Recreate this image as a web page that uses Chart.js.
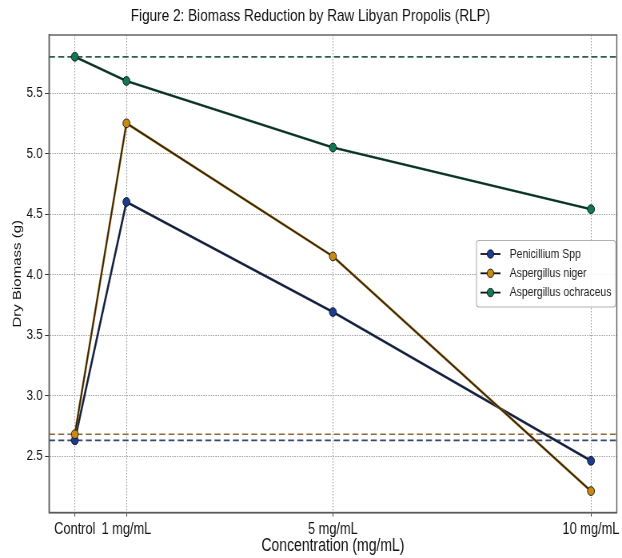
<!DOCTYPE html>
<html>
<head>
<meta charset="utf-8">
<script src="https://cdn.jsdelivr.net/npm/chart.js@4.4.1/dist/chart.umd.min.js"></script>
<style>
html,body{margin:0;padding:0;background:#fff;overflow:hidden;width:622px;height:558px;}
#wrap{width:778px;height:558px;transform:scale(0.79949,1);transform-origin:0 0;}
</style>
</head>
<body>
<div id="wrap"><canvas id="c" width="778" height="558"></canvas></div>
<script>
const xValues = [0, 1, 5, 10];
const xTickLabels = ['Control', '1 mg/mL', '5 mg/mL', '10 mg/mL'];
const yTicks = [2.5, 3.0, 3.5, 4.0, 4.5, 5.0, 5.5];
const seriesNames = ['Penicillium Spp', 'Aspergillus niger', 'Aspergillus ochraceus'];
const penicillium = [2.63, 4.60, 3.69, 2.46];
const niger = [2.68, 5.25, 4.15, 2.21];
const ochraceus = [5.80, 5.60, 5.05, 4.54];

const markerColors = ['#1c3c92', '#c98a10', '#0e7a55'];
const lineColors = ['#161c2c', '#2e220e', '#112a22'];
const haloColors = ['#3a4f80', '#b07a20', '#2e6a52'];
const refColors = ['#36486c', '#8c6c3e', '#2f5e4c'];

const FONT = '"Liberation Sans", Arial, sans-serif';

function toPoints(vals){ return xValues.map((x,i)=>({x:x, y:vals[i]})); }
const allSeries = [penicillium, niger, ochraceus];

const datasets = allSeries.map((vals,i)=>({
  label: seriesNames[i],
  data: toPoints(vals),
  borderColor: lineColors[i],
  borderWidth: 1.6,
  pointRadius: 4.4,
  pointHoverRadius: 4.4,
  pointBackgroundColor: markerColors[i],
  pointBorderColor: '#111',
  pointBorderWidth: 0.9,
  tension: 0,
  fill: false,
  order: 3 - i
}));

const refLines = {
  id: 'refLines',
  beforeDatasetsDraw(chart){
    const {ctx, chartArea, scales} = chart;
    ctx.save();
    ctx.lineWidth = 1.7;
    ctx.setLineDash([7.5, 4]);
    allSeries.forEach((vals,i)=>{
      const y = scales.y.getPixelForValue(vals[0]);
      ctx.strokeStyle = refColors[i];
      ctx.beginPath();
      ctx.moveTo(chartArea.left, y);
      ctx.lineTo(chartArea.right, y);
      ctx.stroke();
    });
    ctx.restore();
  }
};

const halo = {
  id: 'halo',
  beforeDatasetDraw(chart, args){
    const meta = args.meta;
    const i = args.index;
    const ctx = chart.ctx;
    ctx.save();
    ctx.strokeStyle = haloColors[i];
    ctx.lineWidth = 2.7;
    ctx.lineJoin = 'round';
    ctx.beginPath();
    meta.data.forEach((p,k)=>{ if(k===0) ctx.moveTo(p.x,p.y); else ctx.lineTo(p.x,p.y); });
    ctx.stroke();
    ctx.restore();
  }
};

const frame = {
  id: 'frame',
  afterDraw(chart){
    const {ctx, chartArea} = chart;
    ctx.save();
    ctx.strokeStyle = '#5a5a5a';
    ctx.lineWidth = 1.4;
    ctx.strokeRect(chartArea.left, chartArea.top, chartArea.right-chartArea.left, chartArea.bottom-chartArea.top);
    // legend
    const bx = 596, by = 240.5, bw = 174, bh = 66.5;
    ctx.fillStyle = 'rgba(255,255,255,0.9)';
    ctx.strokeStyle = '#b0b0b0';
    ctx.lineWidth = 1.1;
    ctx.beginPath();
    if (ctx.roundRect) ctx.roundRect(bx, by, bw, bh, 3); else ctx.rect(bx,by,bw,bh);
    ctx.fill(); ctx.stroke();
    chart.data.datasets.forEach((ds,i)=>{
      const ry = by + 13.5 + i*19.3;
      ctx.strokeStyle = '#111';
      ctx.lineWidth = 1.8;
      ctx.beginPath(); ctx.moveTo(bx+5, ry); ctx.lineTo(bx+30, ry); ctx.stroke();
      ctx.fillStyle = ds.pointBackgroundColor;
      ctx.strokeStyle = '#111';
      ctx.lineWidth = 0.9;
      ctx.beginPath(); ctx.arc(bx+17.5, ry, 4.2, 0, Math.PI*2); ctx.fill(); ctx.stroke();
      ctx.fillStyle = '#222';
      ctx.font = '13px ' + FONT;
      ctx.textBaseline = 'middle';
      ctx.textAlign = 'left';
      ctx.fillText(ds.label, bx+41.5, ry);
    });
    ctx.restore();
  }
};

new Chart(document.getElementById('c'), {
  type: 'line',
  data: { datasets },
  plugins: [refLines, halo, frame],
  options: {
    responsive: false,
    animation: false,
    devicePixelRatio: 1,
    layout: { padding: { left: 0, right: 1.3, top: 0, bottom: 0 } },
    plugins: {
      legend: { display: false },
      tooltip: { enabled: false },
      title: {
        display: true,
        text: 'Figure 2: Biomass Reduction by Raw Libyan Propolis (RLP)',
        color: '#111',
        font: { family: FONT, size: 17, weight: 'normal' },
        padding: { top: 6, bottom: 8.6 }
      }
    },
    scales: {
      x: {
        type: 'linear',
        min: -0.5, max: 10.5,
        afterBuildTicks(scale){ scale.ticks = xValues.map(v=>({value:v})); },
        afterFit(scale){ scale.height = 45.5; },
        ticks: {
          autoSkip: false, maxRotation: 0,
          color: '#111',
          font: { family: FONT, size: 16 },
          padding: 3,
          callback(value){ const k = xValues.indexOf(value); return k>=0 ? xTickLabels[k] : ''; }
        },
        grid: { color: '#9a9a9a', lineWidth: 1, tickLength: 4, tickColor: '#333', drawTicks: true },
        border: { display: true, color: '#5a5a5a', width: 1.4, dash: [1.5, 1.5] },
        title: {
          display: true, text: 'Concentration (mg/mL)', color: '#111',
          font: { family: FONT, size: 17.5 }, padding: { top: 0, bottom: 1 }
        }
      },
      y: {
        type: 'linear',
        min: 2.033, max: 5.98,
        afterBuildTicks(scale){ scale.ticks = yTicks.map(v=>({value:v})); },
        afterFit(scale){ scale.width = 61.3; },
        ticks: {
          color: '#111',
          font: { family: FONT, size: 14.5 },
          padding: 3,
          callback(value){ return value.toFixed(1); }
        },
        grid: { color: '#9a9a9a', lineWidth: 1, tickLength: 5, tickColor: '#333' },
        border: { display: true, color: '#5a5a5a', width: 1.4, dash: [1.5, 1.5] },
        title: {
          display: true, text: 'Dry Biomass (g)', color: '#111',
          font: { family: FONT, size: 15 }, padding: { top: 13, bottom: 0 }
        }
      }
    }
  }
});
</script>
</body>
</html>
